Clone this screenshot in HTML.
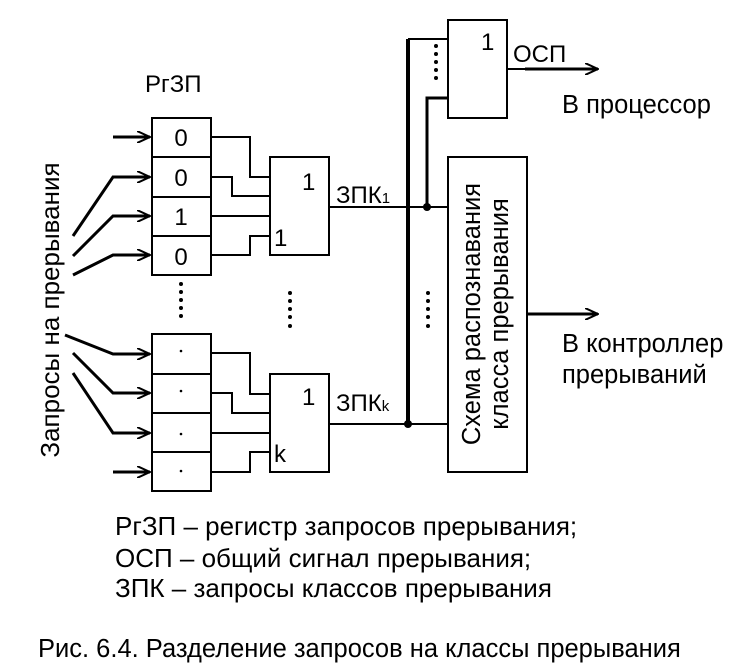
<!DOCTYPE html>
<html><head><meta charset="utf-8"><style>
body{margin:0;background:#fff}
svg{display:block}
text{font-family:"Liberation Sans",sans-serif;fill:#000}
</style></head><body>
<svg width="746" height="671" viewBox="0 0 746 671" xmlns="http://www.w3.org/2000/svg">
<defs><marker id="a" markerWidth="14" markerHeight="12" refX="13" refY="6" orient="auto" markerUnits="userSpaceOnUse"><path d="M0,0 L13,6 L0,12" fill="none" stroke="#000" stroke-width="2"/></marker></defs>
<g stroke="#000" fill="none" stroke-width="2">
<rect x="152" y="118" width="59" height="157" fill="#fff"/>
<line x1="152" y1="157" x2="211" y2="157"/><line x1="152" y1="197" x2="211" y2="197"/><line x1="152" y1="236" x2="211" y2="236"/>
<rect x="152" y="334" width="59" height="157" fill="#fff"/>
<line x1="152" y1="374" x2="211" y2="374"/><line x1="152" y1="413" x2="211" y2="413"/><line x1="152" y1="452" x2="211" y2="452"/>
<rect x="270" y="157" width="59" height="98"/>
<rect x="270" y="374" width="59" height="98"/>
<rect x="448" y="20" width="59" height="98"/>
<rect x="448" y="157" width="79" height="315"/>
<polyline points="211,137 250,137 250,177 270,177"/>
<polyline points="211,177 232,177 232,196 270,196"/>
<polyline points="211,216 270,216"/>
<polyline points="211,255 250,255 250,236 270,236"/>
<polyline points="211,353 250,353 250,394 270,394"/>
<polyline points="211,393 232,393 232,413 270,413"/>
<polyline points="211,433 270,433"/>
<polyline points="211,472 250,472 250,452 270,452"/>
<g stroke-width="3" marker-end="url(#a)">
<polyline points="113,137 150,137"/>
<polyline points="73,236 113,177 150,177"/>
<polyline points="73,256 113,216 150,216"/>
<polyline points="73,275 113,255 150,255"/>
<polyline points="65,335 113,354 150,354"/>
<polyline points="73,353 113,393 150,393"/>
<polyline points="73,373 113,433 150,433"/>
<polyline points="113,472 150,472"/>
</g>
<line x1="329" y1="207" x2="448" y2="207"/>
<line x1="329" y1="424" x2="448" y2="424"/>
<line x1="408" y1="39" x2="408" y2="425" stroke-width="4"/>
<line x1="408" y1="39" x2="448" y2="39"/>
<polyline points="427,207 427,98 448,98" stroke-width="3"/>
<line x1="507" y1="69" x2="525" y2="69"/>
<line x1="525" y1="69" x2="598" y2="69" stroke-width="3" marker-end="url(#a)"/>
<line x1="527" y1="314" x2="598" y2="314" stroke-width="3" marker-end="url(#a)"/>
</g>
<circle cx="427" cy="207" r="4"/><circle cx="408" cy="424" r="4"/>
<g fill="#000">
<circle cx="181" cy="284" r="2"/><circle cx="181" cy="292" r="2"/><circle cx="181" cy="300" r="2"/><circle cx="181" cy="308" r="2"/><circle cx="181" cy="316" r="2"/>
<circle cx="290" cy="293" r="2"/><circle cx="290" cy="301" r="2"/><circle cx="290" cy="309" r="2"/><circle cx="290" cy="317" r="2"/><circle cx="290" cy="326" r="2"/>
<circle cx="428" cy="293" r="2"/><circle cx="428" cy="301" r="2"/><circle cx="428" cy="309" r="2"/><circle cx="428" cy="317" r="2"/><circle cx="428" cy="326" r="2"/>
<circle cx="436" cy="46" r="2"/><circle cx="436" cy="54" r="2"/><circle cx="436" cy="62" r="2"/><circle cx="436" cy="70" r="2"/><circle cx="436" cy="78" r="2"/>
<circle cx="181" cy="351" r="1.3"/><circle cx="181" cy="391" r="1.3"/><circle cx="181" cy="434" r="1.3"/><circle cx="181" cy="471" r="1.3"/>
</g>
<g font-size="24">
<text x="145" y="92">РгЗП</text>
<text x="181" y="146" text-anchor="middle">0</text>
<text x="181" y="186" text-anchor="middle">0</text>
<text x="181" y="225" text-anchor="middle">1</text>
<text x="181" y="265" text-anchor="middle">0</text>
<text x="302" y="190">1</text><text x="274" y="246">1</text>
<text x="302" y="405">1</text><text x="274" y="462">k</text>
<text x="481" y="50">1</text>
<text x="336" y="203">ЗПК<tspan font-size="15">1</tspan></text>
<text x="336" y="411">ЗПК<tspan font-size="15">k</tspan></text>
<text x="513" y="62">ОСП</text>
<text x="562" y="113" font-size="25.5">В процессор</text>
<text x="562" y="352" font-size="25.5">В контроллер</text>
<text x="562" y="383" font-size="25.5">прерываний</text>
<text transform="translate(59,310) rotate(-90)" text-anchor="middle" font-size="26">Запросы на прерывания</text>
<text transform="translate(480,314) rotate(-90)" text-anchor="middle" font-size="25.5">Схема распознавания</text>
<text transform="translate(508,314) rotate(-90)" text-anchor="middle" font-size="25.5">класса прерывания</text>
<g font-size="26">
<text x="115" y="535">РгЗП – регистр запросов прерывания;</text>
<text x="115" y="567">ОСП – общий сигнал прерывания;</text>
<text x="115" y="597">ЗПК – запросы классов прерывания</text>
</g>
<text x="38" y="657" font-size="25.5">Рис. 6.4. Разделение запросов на классы прерывания</text>
</g>
</svg>
</body></html>
